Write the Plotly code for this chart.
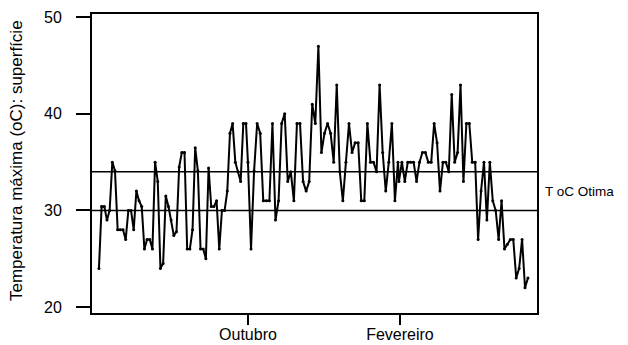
import pandas as pd
import plotly.graph_objects as go

# Maximum surface temperature readings (oC), in three date segments
seg1_values = [24, 30.4, 30.4, 29, 30, 35, 34.1, 28, 28, 28, 27, 30, 30, 28, 32, 31, 30.4, 26, 27, 27,
               26, 35, 33, 24, 24.5, 31.5, 30.4, 29, 27.4, 27.8, 34.5, 36, 36, 26, 26, 28, 36.5, 34.1, 26, 26,
               25, 34.4, 30.4, 30.4, 31, 26, 30, 30, 32, 38, 39, 35, 34, 33, 39, 39]
seg2_values = [35, 26, 34.1, 39, 38, 31, 31, 31, 39, 29, 31, 39, 40, 33, 34, 31, 39, 39, 33, 32,
               33, 41, 39, 47, 36, 38, 39, 38, 35, 43, 34, 31, 35, 39, 36, 37, 37, 31, 31, 39,
               35, 35, 34, 43, 36, 32, 35, 39, 31, 35]
seg3_values = [33, 35, 33, 35, 35, 35, 33, 35, 36, 36, 35, 35, 39, 37, 32, 35, 35, 34, 42, 35,
               36, 43, 33, 39, 39, 35, 35, 27, 32, 35, 29, 35, 31, 30, 27, 31, 26, 26.5, 27, 27,
               23, 24, 27, 22, 23]
seg_bounds = [("2001-06-02 10:00", "2001-09-29 10:00"),
              ("2001-10-01 00:00", "2002-01-30 10:00"),
              ("2002-01-31 05:00", "2002-05-15 14:00")]

optimum_low = 30
optimum_high = 34
optimum_label = "T oC Otima"
tick_dates = ["2001-10-01", "2002-02-01"]
tick_labels = ["Outubro", "Fevereiro"]
y_title = "Temperatura máxima (oC): superfície"

dates = []
values = []
for (s, e), vals in zip(seg_bounds, [seg1_values, seg2_values, seg3_values]):
    dates.extend(pd.date_range(s, e, periods=len(vals)))
    values.extend(vals)

FONT = "Liberation Sans, Arial, sans-serif"

fig = go.Figure()
fig.add_trace(go.Scatter(x=dates, y=values, mode="lines+markers",
                         line=dict(color="black", width=2),
                         marker=dict(color="black", size=3),
                         showlegend=False, hoverinfo="skip"))

for yv in (optimum_low, optimum_high):
    fig.add_shape(type="line", xref="paper", x0=0, x1=1, yref="y", y0=yv, y1=yv,
                  line=dict(color="black", width=1.5))

fig.add_annotation(text=optimum_label, xref="paper", x=(543 - 92) / 445, xanchor="left",
                   yref="y", y=(optimum_low + optimum_high) / 2, yanchor="middle",
                   showarrow=False, font=dict(family=FONT, size=13.5, color="black"))

fig.add_annotation(text=y_title, xref="paper", x=(16 - 92) / 445, xanchor="center",
                   yref="paper", y=(313 - 161) / 299, yanchor="middle", textangle=-90,
                   showarrow=False, font=dict(family=FONT, size=17, color="black"))

fig.update_layout(
    width=628, height=345,
    margin=dict(l=92, r=91, t=14, b=32, autoexpand=False),
    paper_bgcolor="white", plot_bgcolor="white",
    font=dict(family=FONT, size=16, color="black"),
    xaxis=dict(type="date", range=["2001-05-27 19:00", "2002-05-22 22:00"],
               tickvals=tick_dates, ticktext=tick_labels,
               ticks="outside", ticklen=10, tickwidth=1.5, tickcolor="black",
               ticklabelstandoff=-4, automargin=False,
               showline=True, linecolor="black", linewidth=2, mirror=True,
               showgrid=False, zeroline=False,
               tickfont=dict(family=FONT, size=16, color="black")),
    yaxis=dict(range=[19.38, 50.34], tickvals=[20, 30, 40, 50],
               ticks="outside", ticklen=14, tickwidth=1.5, tickcolor="black",
               ticklabelstandoff=11, automargin=False,
               showline=True, linecolor="black", linewidth=2, mirror=True,
               showgrid=False, zeroline=False,
               tickfont=dict(family=FONT, size=16, color="black")),
)

fig.write_html("out.html")
